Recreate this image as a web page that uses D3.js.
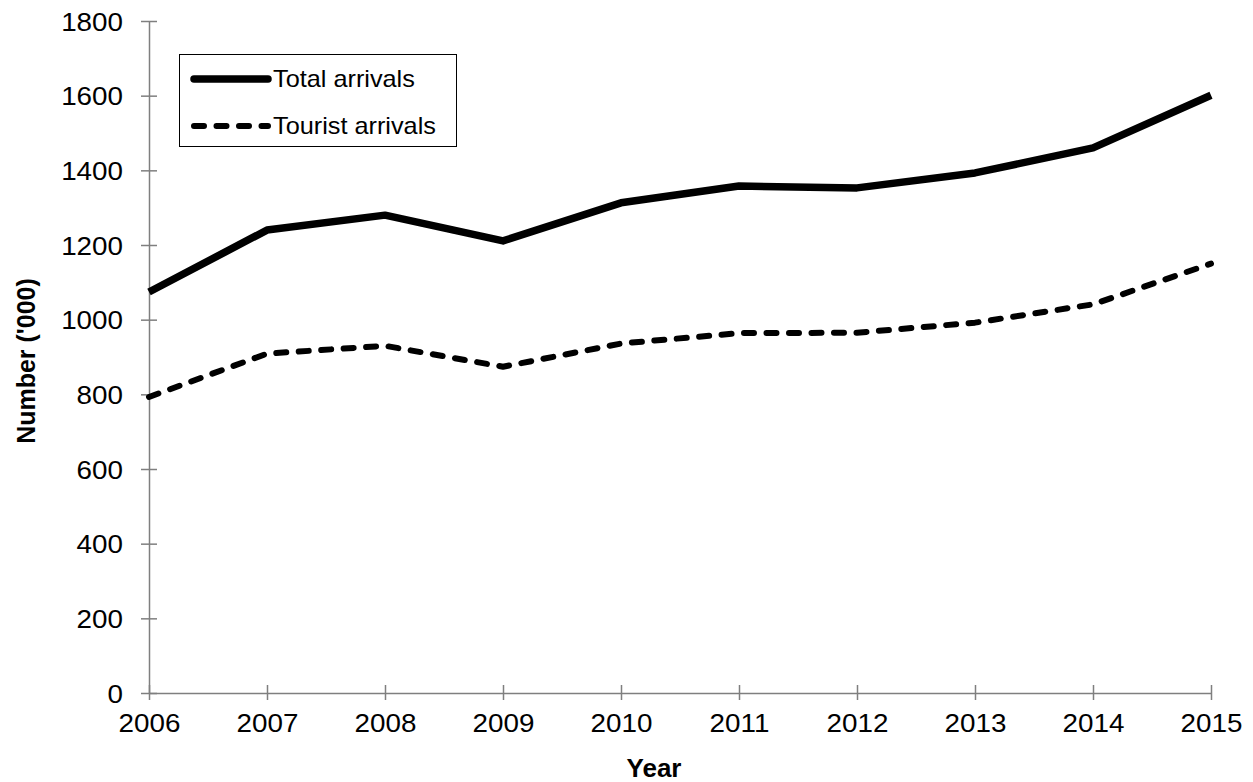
<!DOCTYPE html>
<html>
<head>
<meta charset="utf-8">
<script src="https://cdn.jsdelivr.net/npm/d3@7"></script>
<style>
  html, body { margin: 0; padding: 0; background: #fff; }
  svg { display: block; }
  text { font-family: "Liberation Sans", Arial, sans-serif; fill: #000; }
</style>
</head>
<body>
<svg id="chart" width="1253" height="782"></svg>
<script>
const years = [2006, 2007, 2008, 2009, 2010, 2011, 2012, 2013, 2014, 2015];
const totalArrivals = [1074, 1240, 1280, 1211, 1313, 1358, 1353, 1393, 1460, 1601];
const touristArrivals = [793, 909, 930, 874, 936, 964, 965, 992, 1041, 1150];
const yTicks = [0, 200, 400, 600, 800, 1000, 1200, 1400, 1600, 1800];
const seriesNames = ["Total arrivals", "Tourist arrivals"];

(function () {
const svg = d3.select("#chart");
const mLeft = 149, mRight = 1211, mTop = 21, mBottom = 693;
const axisColor = "#7f7f7f";
const xScale = d3.scaleLinear().domain([2006, 2015]).range([mLeft, mRight]);
const yScale = d3.scaleLinear().domain([0, 1800]).range([mBottom, mTop]);
const tsx = 1.07;

// Y axis
const yAxis = svg.append("g").attr("transform", `translate(${mLeft},0)`)
  .call(d3.axisLeft(yScale).tickValues(yTicks).tickSize(8).tickSizeOuter(0).tickFormat(d3.format("d")));
yAxis.select(".domain").attr("stroke", axisColor).attr("stroke-width", 1.5);
yAxis.selectAll(".tick line").attr("stroke", axisColor).attr("stroke-width", 1.5).attr("x1", 8).attr("x2", -8);
yAxis.selectAll(".tick text")
  .attr("font-size", 26).attr("x", -26 / tsx).attr("dy", "0.35em")
  .attr("transform", `scale(${tsx},1)`)
  .style("font-family", "'Liberation Sans', Arial, sans-serif");

// X axis
const xAxis = svg.append("g").attr("transform", `translate(0,${mBottom})`)
  .call(d3.axisBottom(xScale).tickValues(years).tickSize(7).tickSizeOuter(0).tickFormat(d3.format("d")));
xAxis.select(".domain").attr("stroke", axisColor).attr("stroke-width", 1.5);
xAxis.selectAll(".tick line").attr("stroke", axisColor).attr("stroke-width", 1.5).attr("y1", -8).attr("y2", 7);
xAxis.selectAll(".tick text")
  .attr("font-size", 26).attr("y", 39).attr("dy", 0).attr("x", 0)
  .attr("transform", `scale(${tsx},1)`)
  .style("font-family", "'Liberation Sans', Arial, sans-serif");

// Axis titles
svg.append("text").attr("x", 654).attr("y", 777).attr("text-anchor", "middle")
  .attr("font-size", 26).attr("font-weight", "bold").text("Year");
svg.append("text").attr("transform", "translate(35,361) rotate(-90)")
  .attr("text-anchor", "middle").attr("font-size", 25).attr("font-weight", "bold")
  .text("Number ('000)");

// Lines
const line = d3.line().x((d, i) => xScale(years[i])).y(d => yScale(d)).curve(d3.curveLinear);

svg.append("path").datum(touristArrivals).attr("d", line)
  .attr("fill", "none").attr("stroke", "#000").attr("stroke-width", 6)
  .attr("stroke-dasharray", "10,12.5").attr("stroke-linecap", "round").attr("stroke-linejoin", "round");
svg.append("path").datum(totalArrivals).attr("d", line)
  .attr("fill", "none").attr("stroke", "#000").attr("stroke-width", 7.5)
  .attr("stroke-linejoin", "round");

// Legend
const lg = svg.append("g");
lg.append("rect").attr("x", 179.5).attr("y", 54.5).attr("width", 277).attr("height", 92)
  .attr("fill", "#fff").attr("stroke", "#000").attr("stroke-width", 1);
lg.append("line").attr("x1", 194).attr("x2", 268).attr("y1", 79).attr("y2", 79)
  .attr("stroke", "#000").attr("stroke-width", 7.5).attr("stroke-linecap", "round");
lg.append("line").attr("x1", 194).attr("x2", 268).attr("y1", 126).attr("y2", 126)
  .attr("stroke", "#000").attr("stroke-width", 6).attr("stroke-dasharray", "10,12.5").attr("stroke-linecap", "round");
const lsx = 1.1;
lg.append("text").attr("transform", `translate(273,87) scale(${lsx},1)`).attr("font-size", 23).text(seriesNames[0]);
lg.append("text").attr("transform", `translate(273,134) scale(${lsx},1)`).attr("font-size", 23).text(seriesNames[1]);
})();
</script>
</body>
</html>
